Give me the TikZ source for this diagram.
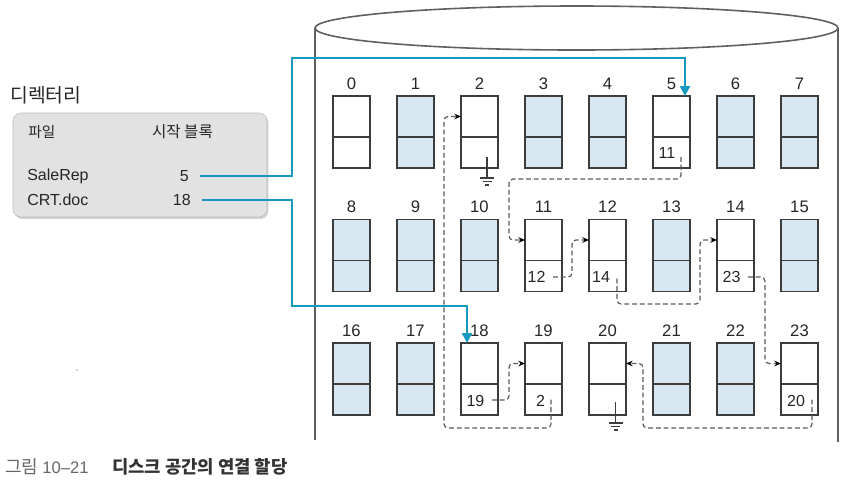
\documentclass[tikz,border=0pt]{standalone}
\usepackage{fontspec}
\setmainfont{Liberation Sans}
\newfontfamily\kr{Noto Sans CJK KR}
\usetikzlibrary{arrows.meta,shadows,calc}
\definecolor{blkfill}{HTML}{D6E7F1}
\definecolor{edgecol}{HTML}{3C3C3C}
\definecolor{ptrcol}{HTML}{1798BF}
\definecolor{dashcol}{HTML}{5A5A5A}
\definecolor{dirfill}{HTML}{E2E2E2}
\begin{document}
\begin{tikzpicture}[x=0.75pt,y=-0.75pt,
  cell/.style={draw=edgecol, line width=1pt, minimum width=27.75pt, inner sep=0pt, outer sep=0pt},
  upper/.style={cell, minimum height=30.75pt},
  lower/.style={cell, minimum height=23.25pt},
  lbl/.style={font=\fontsize{12.5}{14}\selectfont, text=black!85, inner sep=0pt},
  num/.style={font=\fontsize{12}{14}\selectfont, text=black!85, inner sep=0pt},
  link/.style={draw=dashcol, line width=0.9pt, dash pattern=on 3.6pt off 2.2pt, rounded corners=3pt,
    -{Stealth[length=5pt,width=4.2pt,fill=black,black]}},
  ptr/.style={draw=ptrcol, line width=2.2pt, shorten <=8pt, -{Triangle[length=7.5pt,width=7.5pt]}},
  dirbox/.style={draw=gray!55, line width=0.4pt, fill=dirfill, rounded corners=6pt,
    minimum width=190.5pt, minimum height=78pt,
    drop shadow={opacity=0.35, shadow xshift=1pt, shadow yshift=-1.5pt}},
  krtext/.style={font=\kr\fontsize{11}{13}\selectfont, text=black!85, inner sep=0pt},
  dtext/.style={font=\fontsize{12}{14}\selectfont, text=black!85, inner sep=0pt},
  gnd/.pic={\draw[edgecol, line width=0.8pt] (0,0) -- (0,21) (-7,21) -- (7,21) (-4.5,24.5) -- (4.5,24.5) (-2,28) -- (2,28);}
]
\useasboundingbox (0,0) rectangle (844,487);

% cylinder
\draw[gray!75!black, line width=1.2pt] (576.5,28) ellipse [x radius=261.5, y radius=22];
\draw[gray!75!black, line width=1.2pt] (315,28) -- (315,440) (838,28) -- (838,442);

% blocks
\foreach \i/\f in {0/white,1/blkfill,2/white,3/blkfill,4/blkfill,5/white,6/blkfill,7/blkfill,
  8/blkfill,9/blkfill,10/blkfill,11/white,12/white,13/blkfill,14/white,15/blkfill,
  16/blkfill,17/blkfill,18/white,19/white,20/white,21/blkfill,22/blkfill,23/white} {
  \pgfmathtruncatemacro{\c}{mod(\i,8)}
  \pgfmathtruncatemacro{\r}{div(\i,8)}
  \pgfmathsetmacro{\bx}{351.5+64*\c}
  \pgfmathsetmacro{\by}{96+123.5*\r}
  \node[upper, fill=\f] (u\i) at (\bx,\by+20.5) {};
  \node[lower, fill=\f, anchor=north] (l\i) at (u\i.south) {};
  \node[lbl] (t\i) at (\bx,\by-12.5) {\i};
}

% numbers in blocks
\node[num] (n5) at ($(l5.center)+(-4.5,0.5)$) {11};
\node[num] (n11) at ($(l11.center)+(-7,1)$) {12};
\node[num] (n12) at ($(l12.center)+(-6.5,1)$) {14};
\node[num] (n14) at ($(l14.center)+(-4,1)$) {23};
\node[num] (n18) at ($(l18.center)+(-4,1)$) {19};
\node[num] (n19) at ($(l19.center)+(-3,1)$) {2};
\node[num] (n23) at ($(l23.center)+(-3.5,1)$) {20};

% start points of links
\coordinate (s5) at ($(l5.center)+(9.5,4.5)$);
\coordinate (s11) at ($(l11.center)+(9.5,1)$);
\coordinate (s12) at ($(l12.center)+(9.5,2.5)$);
\coordinate (s14) at ($(l14.center)+(12.5,1)$);
\coordinate (s18) at ($(l18.center)+(12.5,0.5)$);
\coordinate (s19) at ($(l19.center)+(7.5,0)$);
\coordinate (s23) at ($(l23.center)+(12.5,0)$);

% dashed links
\draw[link] (s5) |- (509,179) |- (u11.west);
\draw[link] (s11) -| ($(u12.west)+(-17,0)$) -- (u12.west);
\draw[link] (s12) |- (700,304) |- (u14.west);
\draw[link] (s14) -| ($(u23.west)+(-16,0)$) -- (u23.west);
\draw[link] (s23) |- (643,428) |- (u20.east);
\draw[link] (s18) -| ($(u19.west)+(-16,0)$) -- (u19.west);
\draw[link] (s19) |- (444,428) |- (u2.west);

% ground symbols
\pic at ($(l2.center)+(7.5,4.5)$) {gnd};
\pic at ($(l20.center)+(8,2.5)$) {gnd};

% directory
\node[krtext, font=\kr\fontsize{14.5}{16}\selectfont, anchor=west] (dtitle) at (10,95) {디렉터리};
\node[dirbox] (dir) at (140,165) {};
\node[krtext, anchor=west] (hfile) at (28,132) {파일};
\node[krtext, font=\kr\fontsize{11.7}{13}\selectfont] (hstart) at (182.5,132) {시작 블록};
\node[dtext, anchor=west] (f1) at (27,176) {SaleRep};
\node[dtext, anchor=west] (f2) at (27,200) {CRT.doc};
\node[dtext, anchor=east] (d5) at (189,176) {5};
\node[dtext, anchor=east] (d18) at (191,200) {18};

% pointers
\coordinate (a5) at ($(u5.north east)+(-5,0)$);
\coordinate (a18) at ($(u18.north west)+(6,0)$);
\draw[ptr] (d5.east) -| (292,58) -| (a5);
\draw[ptr] (d18.east) -| (292,306) -| (a18);

% stray dot
\fill[black!70] (77,370) circle [radius=0.7];

% caption
\node[anchor=west, font=\kr\fontsize{13.5}{15}\selectfont, text=black!60, inner sep=0pt] (cap1) at (5,467) {그림 {\rmfamily\fontsize{12.5}{15}\selectfont 10–21}};
\node[anchor=west, font=\kr\bfseries\fontsize{13.3}{15}\selectfont, text=black!80, inner sep=0pt] (cap2) at (112,467) {디스크 공간의 연결 할당};
\end{tikzpicture}
\end{document}
